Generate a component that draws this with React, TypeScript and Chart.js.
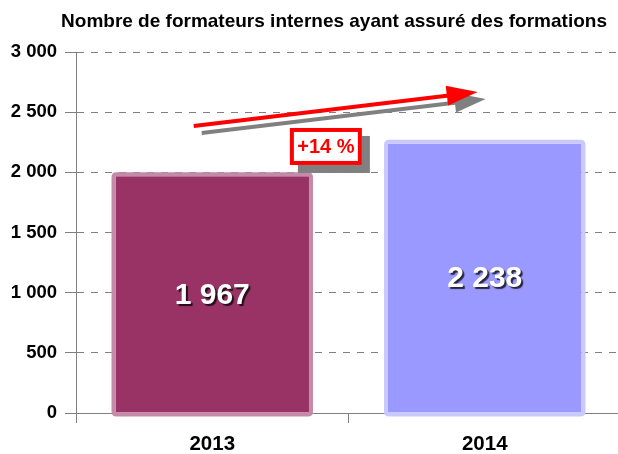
import React, { useEffect, useRef } from "react";
import { Chart, registerables } from "chart.js";

Chart.register(...registerables);

const title = "Nombre de formateurs internes ayant assuré des formations";
const categories = ["2013", "2014"];
const values = [1967, 2238];
const yMin = 0;
const yMax = 3000;
const yStep = 500;
const changeLabel = "+14 %";
const fillColors = ["#993366", "#9999ff"];
const edgeColors = ["#c48aa7", "#c9c9ff"];
// annotation anchors in data coordinates: [category index, value]
const arrowFrom = [-0.068, 2385];
const arrowTo = [0.974, 2668];
const boxAt = [0.417, 2215];

const FONT = "'Liberation Sans', Arial, Helvetica, sans-serif";

const fmt = (n: number) => String(n).replace(/\B(?=(\d{3})+(?!\d))/g, " ");

function roundRect(ctx: CanvasRenderingContext2D, x: number, y: number, w: number, h: number, r: number) {
  ctx.beginPath();
  ctx.moveTo(x + r, y);
  ctx.lineTo(x + w - r, y);
  ctx.quadraticCurveTo(x + w, y, x + w, y + r);
  ctx.lineTo(x + w, y + h - r);
  ctx.quadraticCurveTo(x + w, y + h, x + w - r, y + h);
  ctx.lineTo(x + r, y + h);
  ctx.quadraticCurveTo(x, y + h, x, y + h - r);
  ctx.lineTo(x, y + r);
  ctx.quadraticCurveTo(x, y, x + r, y);
  ctx.closePath();
}

function drawArrow(ctx: CanvasRenderingContext2D, x1: number, y1: number, x2: number, y2: number, color: string) {
  const ang = Math.atan2(y2 - y1, x2 - x1);
  const headLen = 31;
  const headHalf = 10;
  const bx = x2 - headLen * Math.cos(ang);
  const by = y2 - headLen * Math.sin(ang);
  ctx.save();
  ctx.strokeStyle = color;
  ctx.fillStyle = color;
  ctx.lineWidth = 4;
  ctx.lineCap = "butt";
  ctx.beginPath();
  ctx.moveTo(x1, y1);
  ctx.lineTo(bx + 2 * Math.cos(ang), by + 2 * Math.sin(ang));
  ctx.stroke();
  ctx.beginPath();
  ctx.moveTo(x2, y2);
  ctx.lineTo(bx - headHalf * Math.sin(ang), by + headHalf * Math.cos(ang));
  ctx.lineTo(bx + headHalf * Math.sin(ang), by - headHalf * Math.cos(ang));
  ctx.closePath();
  ctx.fill();
  ctx.restore();
}

const decor = {
  id: "decor",
  afterDatasetsDraw(chart: any) {
    const ctx: CanvasRenderingContext2D = chart.ctx;
    const meta = chart.getDatasetMeta(0);
    meta.data.forEach((bar: any, i: number) => {
      const { x, y, base, width } = bar.getProps(["x", "y", "base", "width"], true);
      ctx.save();
      ctx.strokeStyle = edgeColors[i];
      ctx.lineWidth = 4;
      roundRect(ctx, x - width / 2 - 2, y - 2, width + 4, base - y + 4, 3);
      ctx.stroke();
      ctx.restore();

      ctx.save();
      ctx.font = `bold 30px ${FONT}`;
      ctx.textAlign = "center";
      ctx.textBaseline = "middle";
      ctx.fillStyle = "#ffffff";
      ctx.shadowColor = "rgba(0,0,0,0.75)";
      ctx.shadowOffsetX = 2;
      ctx.shadowOffsetY = 2;
      ctx.shadowBlur = 1;
      ctx.fillText(fmt(values[i]), x, (y + base) / 2 + 1);
      ctx.restore();
    });
  },
  afterDraw(chart: any) {
    const ctx: CanvasRenderingContext2D = chart.ctx;
    const xs = chart.scales.x;
    const ys = chart.scales.y;

    // title
    ctx.save();
    ctx.font = `bold 19px ${FONT}`;
    ctx.fillStyle = "#000000";
    ctx.textAlign = "center";
    ctx.textBaseline = "middle";
    ctx.fillText(title, chart.width / 2, 21.5);
    ctx.restore();

    const x1 = xs.getPixelForValue(arrowFrom[0]);
    const y1 = ys.getPixelForValue(arrowFrom[1]);
    const x2 = xs.getPixelForValue(arrowTo[0]);
    const y2 = ys.getPixelForValue(arrowTo[1]);
    drawArrow(ctx, x1 + 8, y1 + 7, x2 + 8, y2 + 7, "#808080");
    drawArrow(ctx, x1, y1, x2, y2, "#ff0000");

    const cx = xs.getPixelForValue(boxAt[0]);
    const cy = ys.getPixelForValue(boxAt[1]);
    const w = 72;
    const h = 37;
    ctx.save();
    ctx.fillStyle = "#808080";
    ctx.fillRect(cx - w / 2 + 8, cy - h / 2 + 8, w, h);
    ctx.fillStyle = "#ffffff";
    ctx.fillRect(cx - w / 2, cy - h / 2, w, h);
    ctx.strokeStyle = "#ff0000";
    ctx.lineWidth = 4;
    ctx.strokeRect(cx - w / 2 + 2, cy - h / 2 + 2, w - 4, h - 4);
    ctx.font = `bold 20px ${FONT}`;
    ctx.fillStyle = "#ff0000";
    ctx.textAlign = "center";
    ctx.textBaseline = "middle";
    ctx.fillText(changeLabel, cx, cy + 1);
    ctx.restore();
  },
};

export default function App() {
  const ref = useRef<HTMLCanvasElement>(null);
  useEffect(() => {
    document.body.style.margin = "0";
    const canvas = ref.current;
    if (!canvas) return;
    const chart = new Chart(canvas, {
      type: "bar",
      data: {
        labels: categories,
        datasets: [
          {
            data: values,
            backgroundColor: fillColors,
            borderWidth: 0,
            barPercentage: 0.71,
            categoryPercentage: 1,
          },
        ],
      },
      options: {
        responsive: false,
        animation: false,
        devicePixelRatio: 1,
        layout: { padding: { left: 0, right: 47, top: 52, bottom: 0 } },
        plugins: {
          legend: { display: false },
          tooltip: { enabled: false },
          title: { display: false },
        },
        scales: {
          x: {
            offset: true,
            grid: {
              display: true,
              offset: true,
              drawOnChartArea: false,
              drawTicks: true,
              tickLength: 10,
              color: "#808080",
              tickColor: "#808080",
            },
            border: { display: true, color: "#808080", width: 1 },
            ticks: {
              color: "#000000",
              font: { family: FONT, size: 20.5, weight: "bold" },
              padding: 9,
            },
            afterFit: (s: any) => {
              s.height = 41;
            },
          },
          y: {
            min: yMin,
            max: yMax,
            grid: {
              color: "#808080",
              tickColor: "#808080",
              tickLength: 11,
              lineWidth: 1,
            },
            border: { display: true, color: "#808080", width: 1, dash: [7, 7] },
            ticks: {
              stepSize: yStep,
              color: "#000000",
              font: { family: FONT, size: 18.5, weight: "bold" },
              padding: 8,
              callback: (v: any) => fmt(Number(v)),
            },
            afterFit: (s: any) => {
              s.width = 76;
            },
          },
        },
      },
      plugins: [decor],
    });
    return () => chart.destroy();
  }, []);
  return (
    <div style={{ width: 618, height: 454, overflow: "hidden", position: "relative", background: "#fff" }}>
      <canvas ref={ref} width={668} height={454} style={{ display: "block", width: 668, height: 454 }} />
    </div>
  );
}
